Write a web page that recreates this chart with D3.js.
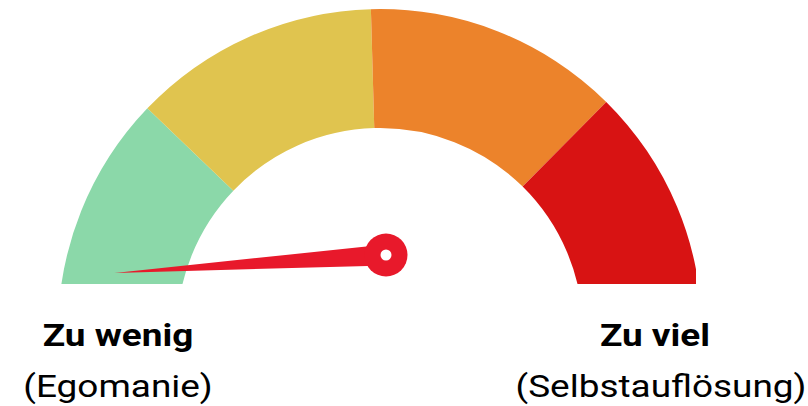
<!DOCTYPE html>
<html>
<head>
<meta charset="utf-8">
<script src="https://cdn.jsdelivr.net/npm/d3@7/dist/d3.min.js"></script>
<style>
  html, body { margin: 0; padding: 0; background: #fff; }
  svg { display: block; }
  text { font-family: Roboto, "Noto Sans", sans-serif; fill: #000; }
</style>
</head>
<body>
<svg id="chart" width="808" height="406"></svg>
<script>
// Gauge bands (value thresholds on a 0–100 scale) and their colours
const bandStops = [0, 24.3, 49.1, 74.8, 100];
const bandColors = ["#8bd8a9", "#e0c44f", "#ec832b", "#d81313"];

// Current needle reading on the same scale
const needleValue = -2.1;

// End labels
const leftLabels = ["Zu wenig", "(Egomanie)"];
const rightLabels = ["Zu viel", "(Selbstauflösung)"];

const width = 808, height = 406;
const cx = 380, cy = 331;
const outerR = 322, innerR = 203;

const svg = d3.select("#chart");

// Value -> angle (radians, 0 = straight up, clockwise)
const angle = d3.scaleLinear().domain([0, 100]).range([-Math.PI / 2, Math.PI / 2]);

// Clip the dial so its lower part and right rim are cut off flat
svg.append("defs").append("clipPath").attr("id", "dialClip")
  .append("rect").attr("x", 0).attr("y", 0).attr("width", 696).attr("height", 284);

const arc = d3.arc().innerRadius(innerR).outerRadius(outerR);

const bands = d3.range(bandColors.length).map(i => ({
  start: bandStops[i], end: bandStops[i + 1], color: bandColors[i]
}));

svg.append("g")
  .attr("clip-path", "url(#dialClip)")
  .append("g")
  .attr("transform", `translate(${cx},${cy})`)
  .selectAll("path")
  .data(bands)
  .join("path")
  .attr("d", d => arc({ startAngle: angle(d.start), endAngle: angle(d.end) }))
  .attr("fill", d => d.color);

// Needle: tapered pointer with a round hub
const pivot = { x: 386, y: 255 };
const needleLen = 272, needleHalfBase = 10.5, hubR = 21.5, holeR = 5.5;
const a = angle(needleValue);
const dir = [Math.sin(a), -Math.cos(a)];
const perp = [-dir[1], dir[0]];
const tip = [pivot.x + dir[0] * needleLen, pivot.y + dir[1] * needleLen];
const b1 = [pivot.x + perp[0] * needleHalfBase, pivot.y + perp[1] * needleHalfBase];
const b2 = [pivot.x - perp[0] * needleHalfBase, pivot.y - perp[1] * needleHalfBase];

const needle = svg.append("g");
needle.append("path")
  .attr("d", d3.line()([tip, b1, b2]) + "Z")
  .attr("fill", "#e8192b");
needle.append("circle")
  .attr("cx", pivot.x).attr("cy", pivot.y).attr("r", hubR)
  .attr("fill", "#e8192b");
needle.append("circle")
  .attr("cx", pivot.x).attr("cy", pivot.y).attr("r", holeR)
  .attr("fill", "#fff");

// End labels (set slightly wide)
const stretch = 1.155;
function labelLine(text, x, y, weight) {
  svg.append("g")
    .attr("transform", `translate(${x},${y}) scale(${stretch},1)`)
    .append("text")
    .attr("text-anchor", "middle")
    .attr("font-size", 32)
    .attr("font-weight", weight)
    .text(text);
}
labelLine(leftLabels[0], 118, 346, 700);
labelLine(leftLabels[1], 118, 397, 400);
labelLine(rightLabels[0], 655, 346, 700);
labelLine(rightLabels[1], 661, 397, 400);
</script>
</body>
</html>
